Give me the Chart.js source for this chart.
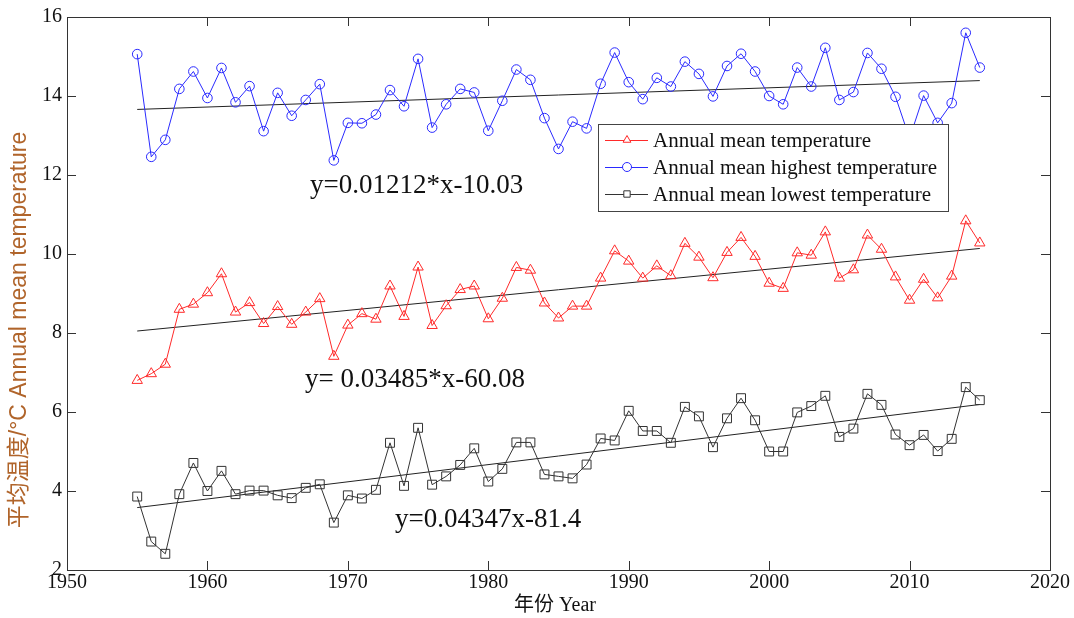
<!DOCTYPE html>
<html>
<head>
<meta charset="utf-8">
<script src="https://cdn.jsdelivr.net/npm/chart.js@4.4.1/dist/chart.umd.min.js"></script>
<style>
  body { margin: 0; background: #fff; }
</style>
</head>
<body>
<canvas id="chart" width="1074" height="618"></canvas>
<script>
// Years 1955-2015
var years = [1955, 1956, 1957, 1958, 1959, 1960, 1961, 1962, 1963, 1964,
             1965, 1966, 1967, 1968, 1969, 1970, 1971, 1972, 1973, 1974,
             1975, 1976, 1977, 1978, 1979, 1980, 1981, 1982, 1983, 1984,
             1985, 1986, 1987, 1988, 1989, 1990, 1991, 1992, 1993, 1994,
             1995, 1996, 1997, 1998, 1999, 2000, 2001, 2002, 2003, 2004,
             2005, 2006, 2007, 2008, 2009, 2010, 2011, 2012, 2013, 2014, 2015];

// Annual mean temperature
var meanTemp = [6.80, 6.97, 7.21, 8.60, 8.73, 9.02, 9.50, 8.53, 8.77, 8.24,
                8.67, 8.22, 8.53, 8.87, 7.41, 8.20, 8.49, 8.35, 9.19, 8.42,
                9.67, 8.19, 8.69, 9.10, 9.19, 8.36, 8.88, 9.66, 9.59, 8.76,
                8.38, 8.68, 8.68, 9.39, 10.08, 9.82, 9.39, 9.70, 9.45, 10.27,
                9.92, 9.40, 10.04, 10.42, 9.94, 9.26, 9.13, 10.03, 9.97, 10.56,
                9.39, 9.60, 10.48, 10.12, 9.42, 8.83, 9.36, 8.89, 9.44, 10.84, 10.28];

// Annual mean highest temperature
var highTemp = [15.06, 12.46, 12.89, 14.18, 14.62, 13.95, 14.71, 13.84, 14.25, 13.11,
                14.08, 13.50, 13.90, 14.30, 12.37, 13.32, 13.31, 13.53, 14.15, 13.74,
                14.94, 13.20, 13.79, 14.18, 14.09, 13.12, 13.88, 14.67, 14.41, 13.44,
                12.66, 13.35, 13.18, 14.31, 15.10, 14.35, 13.92, 14.46, 14.24, 14.87,
                14.56, 13.99, 14.76, 15.07, 14.62, 14.00, 13.79, 14.72, 14.24, 15.22,
                13.90, 14.10, 15.09, 14.69, 13.98, 12.93, 14.01, 13.32, 13.82, 15.60, 14.72];

// Annual mean lowest temperature
var lowTemp = [3.86, 2.72, 2.41, 3.92, 4.71, 4.00, 4.51, 3.92, 4.01, 4.01,
               3.89, 3.82, 4.08, 4.17, 3.20, 3.89, 3.81, 4.03, 5.22, 4.13,
               5.60, 4.16, 4.37, 4.66, 5.08, 4.24, 4.56, 5.23, 5.23, 4.42,
               4.37, 4.32, 4.67, 5.33, 5.28, 6.03, 5.52, 5.52, 5.22, 6.13,
               5.89, 5.11, 5.84, 6.35, 5.79, 5.00, 5.00, 5.99, 6.15, 6.41,
               5.37, 5.58, 6.46, 6.18, 5.43, 5.16, 5.42, 5.01, 5.32, 6.63, 6.30];

// Linear fit lines (end points)
var trendYears = [1955, 2015];
var trendMean = [8.05, 10.14];
var trendHigh = [13.66, 14.39];
var trendLow = [3.58, 6.19];

var seriesLabels = ['Annual mean temperature', 'Annual mean highest temperature', 'Annual mean lowest temperature'];
var equations = ['y=0.01212*x-10.03', 'y= 0.03485*x-60.08', 'y=0.04347x-81.4'];
var xTicks = [1950, 1960, 1970, 1980, 1990, 2000, 2010, 2020];
var yTicks = [2, 4, 6, 8, 10, 12, 14, 16];

var serif = "'Liberation Serif', 'Times New Roman', serif";

function pts(xs, ys) {
    return xs.map(function (x, i) { return { x: x, y: ys[i] }; });
}

function series(label, values, color, style, radius) {
    return {
        label: label,
        data: pts(years, values),
        borderColor: color,
        backgroundColor: 'rgba(0,0,0,0)',
        borderWidth: 1,
        pointStyle: style,
        pointRadius: radius,
        pointBorderWidth: 1,
        pointBorderColor: color,
        pointBackgroundColor: 'rgba(0,0,0,0)',
        tension: 0
    };
}

function trend(values) {
    return {
        label: '',
        data: pts(trendYears, values),
        borderColor: '#222',
        borderWidth: 1,
        pointRadius: 0,
        tension: 0
    };
}

var colors = ['#ff2a2a', '#2a2aff', '#333333'];
var styles = ['triangle', 'circle', 'rect'];

// frame, inward ticks, axis titles and equations
var framePlugin = {
    id: 'frame',
    afterDatasetsDraw: function (chart) {
        var c = chart.ctx, a = chart.chartArea;
        var xs = chart.scales.x, ys = chart.scales.y;
        c.save();
        c.strokeStyle = '#333';
        c.lineWidth = 1;
        c.strokeRect(a.left + 0.5, a.top + 0.5, a.right - a.left, a.bottom - a.top);
        c.beginPath();
        xTicks.forEach(function (v) {
            var px = Math.round(xs.getPixelForValue(v)) + 0.5;
            c.moveTo(px, a.bottom); c.lineTo(px, a.bottom - 9);
            c.moveTo(px, a.top); c.lineTo(px, a.top + 9);
        });
        yTicks.forEach(function (v) {
            var py = Math.round(ys.getPixelForValue(v)) + 0.5;
            c.moveTo(a.left, py); c.lineTo(a.left + 9, py);
            c.moveTo(a.right, py); c.lineTo(a.right - 9, py);
        });
        c.stroke();

        // equations
        c.fillStyle = '#111';
        c.font = '27px ' + serif;
        c.textBaseline = 'middle';
        c.textAlign = 'left';
        c.fillText(equations[0], 310, 186);
        c.fillText(equations[1], 305, 380);
        c.fillText(equations[2], 395, 520);

        // axis titles
        c.textAlign = 'center';
        c.font = "20px " + serif + ", 'Noto Sans CJK SC'";
        c.fillText('年份 Year', 555, 606);
        c.save();
        c.translate(20, 330);
        c.rotate(-Math.PI / 2);
        c.fillStyle = '#b0642a';
        c.font = "23px 'Liberation Sans', 'Noto Sans CJK SC', sans-serif";
        c.fillText('平均温度/°C Annual mean temperature', 0, 0);
        c.restore();
        c.restore();
    }
};

// legend box drawn over the lines
var legendPlugin = {
    id: 'boxLegend',
    afterDraw: function (chart) {
        var c = chart.ctx;
        var bx = 598, by = 124, bw = 350, bh = 87;
        var rows = [140, 167, 194];
        c.save();
        c.fillStyle = '#fff';
        c.fillRect(bx, by, bw, bh);
        c.strokeStyle = '#444';
        c.lineWidth = 1;
        c.strokeRect(bx + 0.5, by + 0.5, bw, bh);
        for (var i = 0; i < 3; i++) {
            c.strokeStyle = colors[i];
            c.beginPath();
            c.moveTo(605, rows[i] + 0.5);
            c.lineTo(648, rows[i] + 0.5);
            c.stroke();
            c.fillStyle = '#fff';
            Chart.helpers.drawPoint(c, { pointStyle: styles[i], radius: 4.5, rotation: 0, borderWidth: 1 }, 627, rows[i]);
            c.fillStyle = '#111';
            c.font = '21px ' + serif;
            c.textAlign = 'left';
            c.textBaseline = 'middle';
            c.fillText(seriesLabels[i], 653, rows[i] + 1);
        }
        c.restore();
    }
};

var tickFont = { family: serif, size: 20 };

new Chart(document.getElementById('chart'), {
    type: 'line',
    data: {
        datasets: [
            series(seriesLabels[0], meanTemp, colors[0], 'triangle', 6),
            series(seriesLabels[1], highTemp, colors[1], 'circle', 4.8),
            series(seriesLabels[2], lowTemp, colors[2], 'rect', 6.3),
            trend(trendMean),
            trend(trendHigh),
            trend(trendLow)
        ]
    },
    options: {
        responsive: false,
        animation: false,
        layout: { padding: { top: 16, right: 24, left: 0, bottom: 0 } },
        plugins: { legend: { display: false }, tooltip: { enabled: false } },
        scales: {
            x: {
                type: 'linear', min: 1950, max: 2020,
                ticks: { stepSize: 10, color: '#111', font: tickFont, padding: 1,
                         callback: function (v) { return String(v); } },
                grid: { display: false, drawTicks: false },
                border: { display: false },
                afterFit: function (s) { s.height = 48; }
            },
            y: {
                min: 2, max: 16,
                ticks: { stepSize: 2, color: '#111', font: tickFont, padding: 5 },
                grid: { display: false, drawTicks: false },
                border: { display: false },
                afterFit: function (s) { s.width = 67; }
            }
        }
    },
    plugins: [framePlugin, legendPlugin]
});
</script>
</body>
</html>
